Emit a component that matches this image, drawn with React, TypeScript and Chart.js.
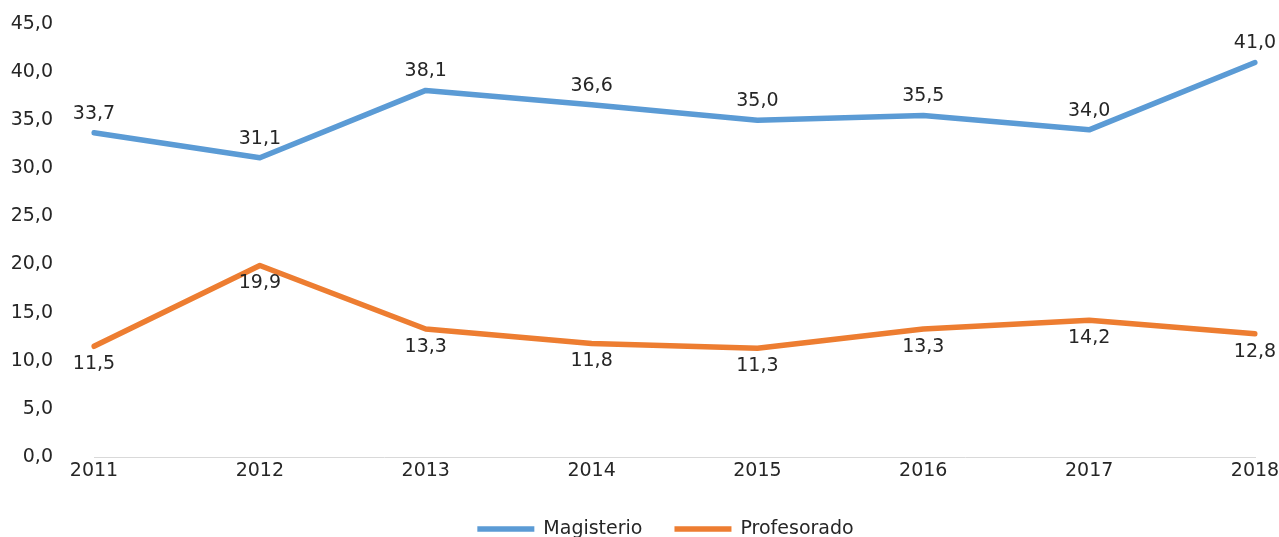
import React, { useEffect, useRef } from 'react';
import { Chart, registerables } from 'chart.js';

Chart.register(...registerables);

const years: string[] = ['2011', '2012', '2013', '2014', '2015', '2016', '2017', '2018'];
const magisterio: number[] = [33.7, 31.1, 38.1, 36.6, 35.0, 35.5, 34.0, 41.0];
const profesorado: number[] = [11.5, 19.9, 13.3, 11.8, 11.3, 13.3, 14.2, 12.8];
const seriesNames: string[] = ['Magisterio', 'Profesorado'];
const seriesColors: string[] = ['#5B9BD5', '#ED7D31'];
const labelSides: string[] = ['above', 'below'];
const yMin = 0;
const yMax = 45;
const yStep = 5;

const FONT_FAMILY = "'DejaVu Sans', sans-serif";
const FONT_SIZE = 19;
const TEXT_COLOR = '#262626';

const fmt = (v: number) => v.toFixed(1).replace('.', ',');

const dataLabelPlugin = {
  id: 'dataLabels',
  afterDatasetsDraw(chart: any) {
    const ctx = chart.ctx;
    ctx.save();
    ctx.font = `${FONT_SIZE}px ${FONT_FAMILY}`;
    ctx.fillStyle = TEXT_COLOR;
    ctx.textAlign = 'center';
    ctx.textBaseline = 'middle';
    chart.data.datasets.forEach((ds: any, i: number) => {
      const meta = chart.getDatasetMeta(i);
      const side = labelSides[i];
      meta.data.forEach((pt: any, j: number) => {
        const v = ds.data[j] as number;
        const dy = side === 'above' ? -19 : 18;
        ctx.fillText(fmt(v), pt.x, pt.y + dy);
      });
    });
    ctx.restore();
  },
};

const legendPlugin = {
  id: 'bottomLegend',
  afterDraw(chart: any) {
    const ctx = chart.ctx;
    ctx.save();
    ctx.font = `${FONT_SIZE}px ${FONT_FAMILY}`;
    const lineW = 57;
    const gapText = 9;
    const gapItems = 32;
    const items = chart.data.datasets.map((ds: any) => ({
      label: ds.label as string,
      color: ds.borderColor as string,
      w: ctx.measureText(ds.label).width,
    }));
    let total = 0;
    items.forEach((it: any, i: number) => {
      total += lineW + gapText + it.w + (i < items.length - 1 ? gapItems : 0);
    });
    const cx = (chart.chartArea.left + chart.chartArea.right) / 2 - 9;
    let x = cx - total / 2;
    const y = chart.chartArea.bottom + 72;
    ctx.textBaseline = 'middle';
    ctx.textAlign = 'left';
    items.forEach((it: any) => {
      ctx.strokeStyle = it.color;
      ctx.lineWidth = 5.5;
      ctx.lineCap = 'butt';
      ctx.beginPath();
      ctx.moveTo(x, y);
      ctx.lineTo(x + lineW, y);
      ctx.stroke();
      ctx.fillStyle = TEXT_COLOR;
      ctx.fillText(it.label, x + lineW + gapText, y);
      x += lineW + gapText + it.w + gapItems;
    });
    ctx.restore();
  },
};

export default function App() {
  const canvasRef = useRef<HTMLCanvasElement | null>(null);

  useEffect(() => {
    document.body.style.margin = '0';
    document.body.style.overflow = 'hidden';
    const canvas = canvasRef.current;
    if (!canvas) return;
    const chart = new Chart(canvas, {
      type: 'line',
      data: {
        labels: years,
        datasets: [
          {
            label: seriesNames[0],
            data: magisterio,
            borderColor: seriesColors[0],
            backgroundColor: seriesColors[0],
            borderWidth: 5.5,
            pointRadius: 0,
            tension: 0,
            borderJoinStyle: 'round',
            borderCapStyle: 'round',
          },
          {
            label: seriesNames[1],
            data: profesorado,
            borderColor: seriesColors[1],
            backgroundColor: seriesColors[1],
            borderWidth: 5.5,
            pointRadius: 0,
            tension: 0,
            borderJoinStyle: 'round',
            borderCapStyle: 'round',
          },
        ],
      },
      options: {
        animation: false,
        responsive: true,
        maintainAspectRatio: false,
        layout: { padding: { top: 24, right: 24, left: 0, bottom: 0 } },
        plugins: {
          legend: { display: false },
          tooltip: { enabled: false },
        },
        scales: {
          x: {
            offset: false,
            grid: { display: false, drawTicks: false },
            border: { display: true, color: '#D9D9D9', width: 1 },
            ticks: {
              padding: 3,
              color: TEXT_COLOR,
              font: { family: FONT_FAMILY, size: FONT_SIZE },
              maxRotation: 0,
              autoSkip: false,
            },
            afterFit(scale: any) {
              scale.height = 80;
              scale.paddingLeft = 0;
              scale.paddingRight = 0;
            },
          },
          y: {
            min: yMin,
            max: yMax,
            grid: { display: false, drawTicks: false },
            border: { display: false },
            ticks: {
              stepSize: yStep,
              padding: 41,
              color: TEXT_COLOR,
              font: { family: FONT_FAMILY, size: FONT_SIZE },
              callback: (v: any) => fmt(Number(v)),
            },
            afterFit(scale: any) {
              scale.width = 94;
              scale.paddingTop = 0;
              scale.paddingBottom = 0;
            },
          },
        },
      },
      plugins: [dataLabelPlugin, legendPlugin],
    });
    return () => chart.destroy();
  }, []);

  return (
    <div style={{ position: 'relative', width: '1279px', height: '537px' }}>
      <canvas ref={canvasRef} />
    </div>
  );
}
